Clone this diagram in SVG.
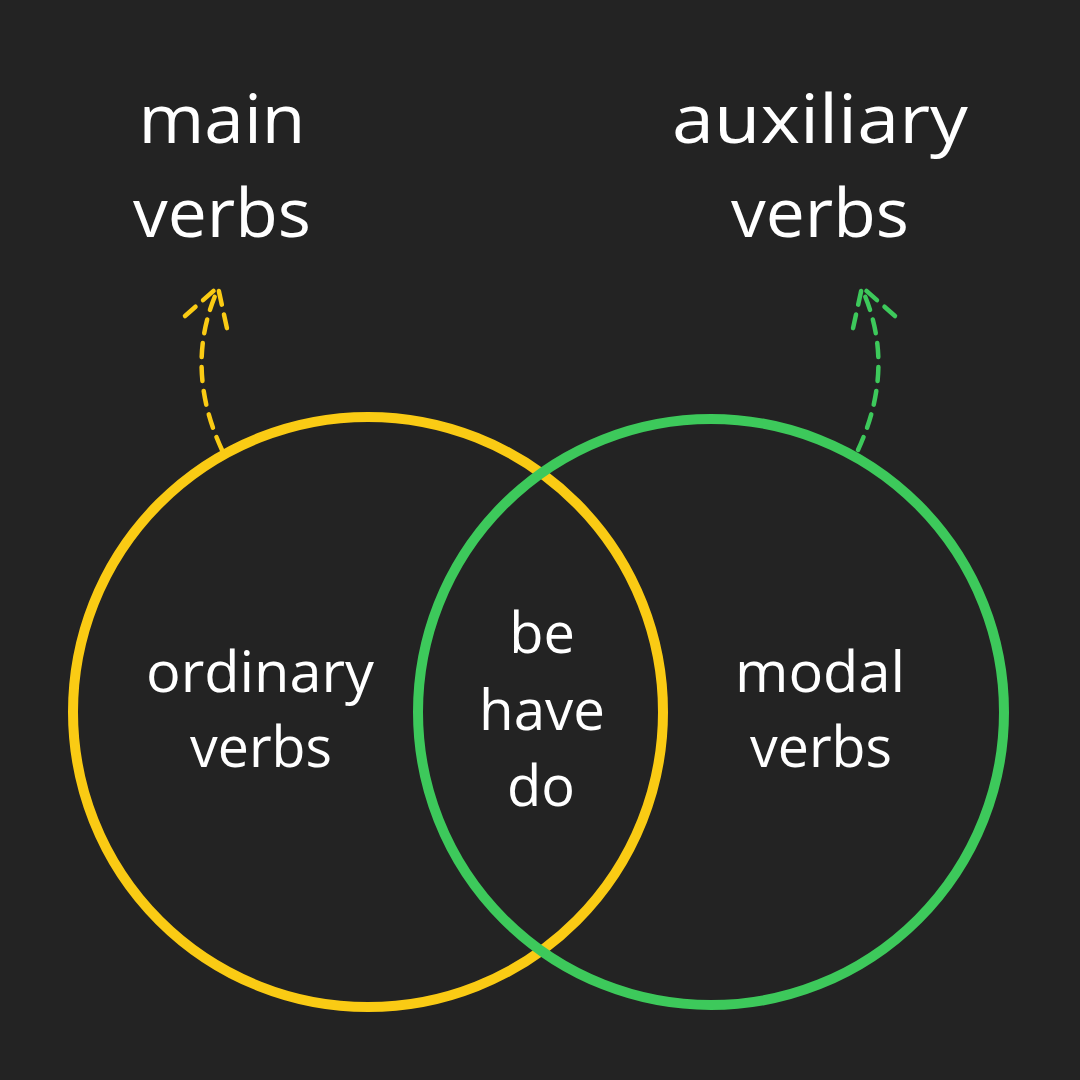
<svg xmlns="http://www.w3.org/2000/svg" width="1080" height="1080" viewBox="0 0 1080 1080">
<style>
.t{font-family:"Open Sans","Liberation Sans",sans-serif;fill:#ffffff;text-anchor:middle}
.big{font-size:68px}
.mid{font-size:56px}
.ring{fill:none;stroke-width:10}
.dash{fill:none;stroke-width:4.5;stroke-linecap:round;stroke-linejoin:round;stroke-dasharray:14 10}
</style>
<rect width="1080" height="1080" fill="#232323"/>
<g id="label-main">
<text class="t big" x="222" y="143" textLength="167" lengthAdjust="spacingAndGlyphs">main</text>
<text class="t big" x="222" y="237" textLength="178" lengthAdjust="spacingAndGlyphs">verbs</text>
</g>
<g id="label-auxiliary">
<text class="t big" x="820" y="143" textLength="296" lengthAdjust="spacingAndGlyphs">auxiliary</text>
<text class="t big" x="820" y="237" textLength="178" lengthAdjust="spacingAndGlyphs">verbs</text>
</g>
<g id="circle-main">
<circle class="ring" cx="368" cy="712" r="295" stroke="#FACB14"/>
<text class="t mid" x="260" y="692" textLength="228" lengthAdjust="spacingAndGlyphs">ordinary</text>
<text class="t mid" x="261" y="767" textLength="142" lengthAdjust="spacingAndGlyphs">verbs</text>
</g>
<g id="circle-auxiliary">
<circle class="ring" cx="711" cy="712" r="293" stroke="#3DC95B"/>
<text class="t mid" x="820" y="692" textLength="170" lengthAdjust="spacingAndGlyphs">modal</text>
<text class="t mid" x="821" y="767" textLength="142" lengthAdjust="spacingAndGlyphs">verbs</text>
</g>
<g id="overlap">
<text class="t mid" x="542" y="653">be</text>
<text class="t mid" x="542" y="730" textLength="126" lengthAdjust="spacingAndGlyphs">have</text>
<text class="t mid" x="541" y="806">do</text>
</g>
<g id="connectors">
<path class="dash" stroke="#FACB14" d="M222,450 Q185,370 215,296"/>
<path class="dash" stroke="#FACB14" d="M185,316 L218,287 L228,333"/>
<path class="dash" stroke="#3DC95B" d="M858,450 Q895,370 865,296"/>
<path class="dash" stroke="#3DC95B" d="M895,316 L862,287 L852,333"/>
</g>
</svg>
